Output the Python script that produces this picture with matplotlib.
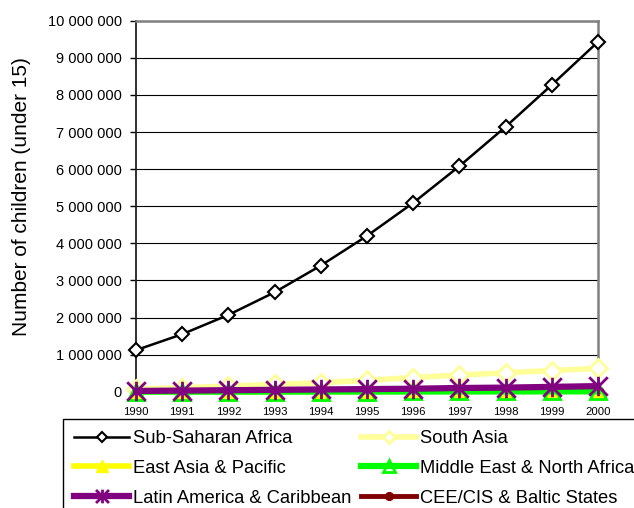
import numpy as np
import matplotlib
matplotlib.use('Agg')
from matplotlib import pyplot as plt
from matplotlib.path import Path
from matplotlib.ticker import FuncFormatter, MultipleLocator

plt.rcParams['font.family'] = ['Liberation Sans', 'DejaVu Sans']

years = list(range(1990, 2001))
series_names = ['Sub-Saharan Africa', 'South Asia', 'East Asia & Pacific',
                'Middle East & North Africa', 'Latin America & Caribbean',
                'CEE/CIS & Baltic States']

sub_saharan = [1120000, 1550000, 2070000, 2680000, 3400000, 4200000,
               5090000, 6080000, 7140000, 8270000, 9430000]
south_asia = [70000, 110000, 150000, 200000, 240000, 310000,
              380000, 450000, 510000, 570000, 630000]
east_asia = [3000, 4000, 5000, 6000, 8000, 9000, 11000, 13000, 15000, 17000, 20000]
middle_east = [1000, 2000, 2000, 3000, 4000, 5000, 6000, 7000, 8000, 9000, 10000]
latin_america = [20000, 30000, 40000, 50000, 60000, 70000,
                 80000, 100000, 110000, 130000, 150000]
cee_cis = [500, 600, 800, 900, 1000, 1200, 1500, 1800, 2100, 2500, 3000]

# Excel style star marker: an X with a vertical stroke
star = Path([(-1, -1), (1, 1), (-1, 1), (1, -1), (0, -1.05), (0, 1.05)],
            [Path.MOVETO, Path.LINETO, Path.MOVETO, Path.LINETO, Path.MOVETO, Path.LINETO])

fig = plt.figure(figsize=(6.34, 5.08), dpi=100)
ax = fig.add_axes([136 / 634, 1 - 391.7 / 508, 462 / 634, 371 / 508])

ax.plot(years, cee_cis, color='#800000', lw=3.5, marker='o', ms=8,
        mfc='#800000', mec='#800000', clip_on=False, zorder=2, label=series_names[5])
ax.plot(years, sub_saharan, color='black', lw=1.8, marker='D', ms=7,
        mfc='white', mec='black', mew=1.5, clip_on=False, zorder=3, label=series_names[0])
ax.plot(years, south_asia, color='#FFFF99', lw=4, marker='D', ms=9,
        mfc='white', mec='#FFFF99', mew=2, clip_on=False, zorder=3, label=series_names[1])
ax.plot(years, east_asia, color='#FFFF00', lw=4, marker='^', ms=12,
        mfc='#FFFF00', mec='#FFFF00', clip_on=False, zorder=4, label=series_names[2])
ax.plot(years, middle_east, color='#00FF00', lw=4.5, marker='^', ms=12,
        mfc='none', mec='#00FF00', mew=2, clip_on=False, zorder=5, label=series_names[3])
ax.plot(years, latin_america, color='#800080', lw=4.5, marker=star, ms=14,
        mfc='none', mec='#800080', mew=2, clip_on=False, zorder=6, label=series_names[4])

ax.set_xlim(1990, 2000)
ax.set_ylim(0, 10000000)
ax.set_xticks(years)
ax.yaxis.set_major_locator(MultipleLocator(1000000))
ax.yaxis.set_major_formatter(FuncFormatter(lambda v, p: f'{int(v):,}'.replace(',', ' ')))
ax.grid(axis='y', color='black', lw=0.8)
ax.set_axisbelow(True)

ax.tick_params(axis='y', length=4, width=1, pad=6, labelsize=10.5, direction='out')
ax.tick_params(axis='x', length=0, pad=11, labelsize=8.2)

ax.spines['left'].set_color('#202020')
ax.spines['left'].set_linewidth(1.3)
ax.spines['bottom'].set_color('black')
ax.spines['bottom'].set_linewidth(0.8)
for side in ['top', 'right']:
    ax.spines[side].set_color('#808080')
    ax.spines[side].set_linewidth(1.8)

fig.text(22 / 634, 1 - 197 / 508, 'Number of children (under 15)', rotation=90,
         ha='center', va='center', fontsize=15)

# legend reads row by row in the reference; matplotlib fills columns first
handles, labels = ax.get_legend_handles_labels()
order = [1, 3, 5, 2, 4, 0]
leg = fig.legend([handles[i] for i in order], [labels[i] for i in order],
                 loc='upper left', bbox_to_anchor=(63 / 634, 1 - 419 / 508),
                 ncol=2, fontsize=13.2, frameon=True, fancybox=False,
                 edgecolor='black', framealpha=1, borderaxespad=0,
                 borderpad=0.6, handlelength=3.0, handletextpad=0.2,
                 columnspacing=0.55, labelspacing=0.7, markerscale=0.7)
leg.get_frame().set_linewidth(1)

fig.savefig('out.png', dpi=100)
